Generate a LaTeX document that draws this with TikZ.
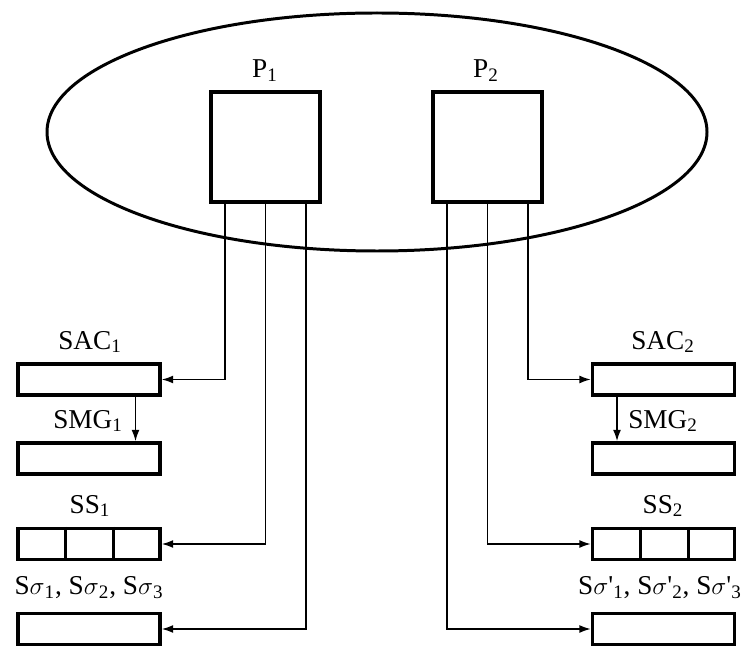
\documentclass[tikz,border=0pt]{standalone}
\usepackage{fontspec}
\setmainfont{Liberation Serif}
\usepackage{tikz}
\usetikzlibrary{arrows.meta,calc}

\begin{document}
\begin{tikzpicture}[x=0.02cm,y=-0.02cm,
    font=\fontsize{15.5}{18}\selectfont,
    proc/.style={draw,line width=1.9pt,inner sep=0pt,minimum width=2.18cm,minimum height=2.2cm},
    reg/.style={draw,line width=1.9pt,inner sep=0pt,minimum width=2.84cm,minimum height=0.62cm},
    conn/.style={line width=1pt,-{Latex[length=6.5pt,width=4.5pt]}}]
            \useasboundingbox (0,0) rectangle (750,651);
            \draw[line width=1.7pt] (377,132) ellipse (330 and 119);
            \node[proc] (p1) at (265.5,147) {};
            \node[proc] (p2) at (487.5,147) {};
            \node (p1lbl) at (265,71) {P\textsubscript{1}};
            \node (p2lbl) at (486,71) {P\textsubscript{2}};
            % left column
            \node[reg] (sac1) at (89,379.5) {};
            \node[reg] (smg1) at (89,458.5) {};
            \node[reg] (ss1) at (89,544) {};
            \node[reg] (sg1) at (89,629) {};
            \node (sac1lbl) at (90,342) {SAC\textsubscript{1}};
            \node (smg1lbl) at (88,421) {SMG\textsubscript{1}};
            \node (ss1lbl) at (90,506) {SS\textsubscript{1}};
            \node (sg1lbl) at (89,588) {S$\sigma$\textsubscript{1}, S$\sigma$\textsubscript{2}, S$\sigma$\textsubscript{3}};
            % right column
            \node[reg] (sac2) at (663.5,379.5) {};
            \node[reg] (smg2) at (663.5,458.5) {};
            \node[reg] (ss2) at (663.5,544) {};
            \node[reg] (sg2) at (663.5,629) {};
            \node (sac2lbl) at (663,342) {SAC\textsubscript{2}};
            \node (smg2lbl) at (663,421) {SMG\textsubscript{2}};
            \node (ss2lbl) at (663,506) {SS\textsubscript{2}};
            \node (sg2lbl) at (660,588) {S$\sigma$\textquotesingle\textsubscript{1}, S$\sigma$\textquotesingle\textsubscript{2}, S$\sigma$\textquotesingle\textsubscript{3}};
            % cells
            \foreach \f in {0.34,0.67} {
                \draw[line width=1.9pt] ($(ss1.north west)!\f!(ss1.north east)$) -- ($(ss1.south west)!\f!(ss1.south east)$);
                \draw[line width=1.9pt] ($(ss2.north west)!\f!(ss2.north east)$) -- ($(ss2.south west)!\f!(ss2.south east)$);
            }
            % wires
            \coordinate (p1a) at ($(p1.south west)!0.14!(p1.south east)$);
            \coordinate (p1b) at ($(p1.south west)!0.5!(p1.south east)$);
            \coordinate (p1c) at ($(p1.south west)!0.86!(p1.south east)$);
            \coordinate (p2a) at ($(p2.south west)!0.14!(p2.south east)$);
            \coordinate (p2b) at ($(p2.south west)!0.5!(p2.south east)$);
            \coordinate (p2c) at ($(p2.south west)!0.86!(p2.south east)$);
            \coordinate (m1) at ($(sac1.south west)!0.82!(sac1.south east)$);
            \coordinate (m2) at ($(sac2.south west)!0.18!(sac2.south east)$);
            \draw[conn] (p1a) |- (sac1.east);
            \draw[conn] (p1b) |- (ss1.east);
            \draw[conn] (p1c) |- (sg1.east);
            \draw[conn] (p2c) |- (sac2.west);
            \draw[conn] (p2b) |- (ss2.west);
            \draw[conn] (p2a) |- (sg2.west);
            \draw[conn] (m1) -- (m1 |- smg1.north);
            \draw[conn] (m2) -- (m2 |- smg2.north);
        \end{tikzpicture}
\end{document}
